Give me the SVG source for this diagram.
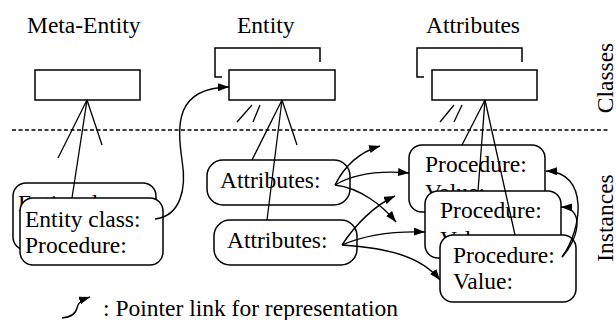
<svg xmlns="http://www.w3.org/2000/svg" width="616" height="320" viewBox="0 0 616 320">
  <style>
    text { font-family: "Liberation Serif", Tinos, "DejaVu Serif", serif; font-size: 23.5px; fill: #000; }
    .cls { fill: #fff; stroke: #000; stroke-width: 1.5; }
    .brk { fill: none; stroke: #000; stroke-width: 1.5; }
    .inst { fill: #fff; stroke: #000; stroke-width: 1.5; }
    .line { fill: none; stroke: #000; stroke-width: 1.3; }
    .ptr { fill: none; stroke: #000; stroke-width: 1.4; marker-end: url(#arrow); }
    .sep { stroke: #000; stroke-width: 1.3; stroke-dasharray: 4 2.5; }
  </style>
  <defs>
    <marker id="arrow" viewBox="0 0 11 8" refX="11" refY="4" markerWidth="11" markerHeight="8" markerUnits="userSpaceOnUse" orient="auto">
      <path d="M0,0 L11,4 L0,8 z" fill="#000"/>
    </marker>
  </defs>

  <!-- class / instance separator -->
  <line class="sep" x1="12" y1="130" x2="610" y2="130"/>

  <!-- column titles -->
  <text x="27" y="33">Meta-Entity</text>
  <text x="237" y="33">Entity</text>
  <text x="426" y="33">Attributes</text>

  <!-- side labels -->
  <text transform="translate(613,78) rotate(-90)" text-anchor="middle">Classes</text>
  <text transform="translate(613,218) rotate(-90)" text-anchor="middle">Instances</text>

  <!-- class nodes -->
  <g id="meta-entity-class">
    <rect class="cls" x="35" y="70" width="105" height="30"/>
  </g>
  <g id="entity-class">
    <path class="brk" d="M222,77 H215 V48 H320 V62"/>
    <rect class="cls" x="229" y="70" width="106" height="30"/>
    <line class="line" x1="237" y1="122" x2="252" y2="105"/>
    <line class="line" x1="253" y1="122" x2="260" y2="105"/>
  </g>
  <g id="attributes-class">
    <path class="brk" d="M424,77 H417 V48 H522 V62"/>
    <rect class="cls" x="432" y="70" width="105" height="30"/>
    <line class="line" x1="440" y1="122" x2="454" y2="105"/>
    <line class="line" x1="454" y1="122" x2="462" y2="105"/>
  </g>

  <!-- meta-entity instances (stacked copies) -->
  <g id="entity-instance-back">
    <rect class="inst" x="13" y="183" width="143" height="67" rx="13"/>
    <text x="18" y="211">Entity class:</text>
  </g>
  <g id="entity-instance-front">
    <rect class="inst" x="20" y="198" width="143" height="67" rx="13"/>
    <text x="25" y="227">Entity class:</text>
    <text x="25" y="253">Procedure:</text>
  </g>

  <!-- entity instances -->
  <g id="entity-instance-1">
    <rect class="inst" x="207" y="160" width="143" height="45" rx="16"/>
    <text x="220" y="188">Attributes:</text>
  </g>
  <g id="entity-instance-2">
    <rect class="inst" x="214" y="220" width="143" height="45" rx="16"/>
    <text x="227" y="248">Attributes:</text>
  </g>

  <!-- attribute instances (stacked copies) -->
  <g id="attribute-instance-1">
    <rect class="inst" x="409" y="145" width="136" height="67" rx="13"/>
    <text x="425" y="172">Procedure:</text>
    <text x="425" y="200">Value:</text>
  </g>
  <g id="attribute-instance-2">
    <rect class="inst" x="425" y="191" width="136" height="67" rx="13"/>
    <text x="440" y="218">Procedure:</text>
    <text x="440" y="247">Value:</text>
  </g>
  <g id="attribute-instance-3">
    <rect class="inst" x="440" y="235" width="136" height="67" rx="13"/>
    <text x="453" y="263">Procedure:</text>
    <text x="453" y="289">Value:</text>
  </g>

  <!-- connectors -->
  <g id="connectors">
    <!-- instance-of fans -->
    <line class="line" x1="87" y1="100" x2="58" y2="158"/>
    <line class="line" x1="87" y1="100" x2="72" y2="198"/>
    <line class="line" x1="87" y1="100" x2="102" y2="145"/>

    <line class="line" x1="282" y1="100" x2="252" y2="160"/>
    <line class="line" x1="282" y1="100" x2="267" y2="220"/>
    <line class="line" x1="282" y1="100" x2="297" y2="145"/>

    <line class="line" x1="485" y1="100" x2="462" y2="145"/>
    <line class="line" x1="485" y1="100" x2="478" y2="191"/>
    <line class="line" x1="485" y1="100" x2="515" y2="235"/>

    <!-- pointer links -->
    <path class="ptr" d="M155,219 C180,216 187,190 182,160 C177,125 175,88 229,87"/>

    <path class="ptr" d="M335,185 C345,165 360,152 380,146"/>
    <path class="ptr" d="M335,185 C352,175 375,170 409,173"/>
    <path class="ptr" d="M335,185 C360,188 382,205 396,222"/>

    <path class="ptr" d="M342,245 C355,225 375,205 395,196"/>
    <path class="ptr" d="M342,245 C365,235 395,231 425,232"/>
    <path class="ptr" d="M342,245 C385,248 420,255 440,280"/>

    <path class="ptr" d="M562,257 C582,230 590,172 546,171"/>
    <path class="ptr" d="M562,257 C578,240 586,208 561,207"/>
  </g>

  <!-- legend -->
  <g id="legend">
    <path class="ptr" d="M62,318 C72,317 76,313 77,308 C78,303 81,300 90,297"/>
    <text x="103" y="316">: Pointer link for representation</text>
  </g>
</svg>
